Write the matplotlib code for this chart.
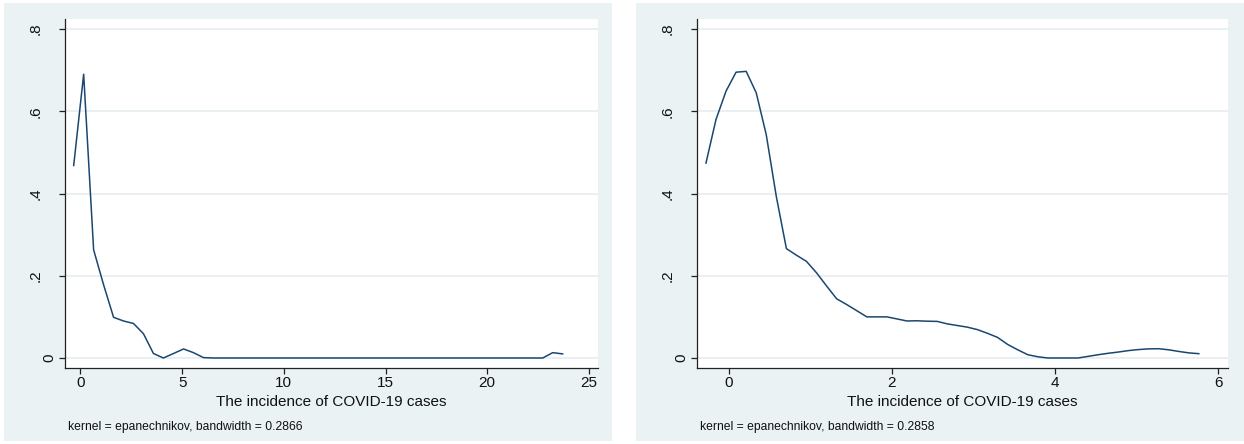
import matplotlib
matplotlib.use("Agg")
import matplotlib.pyplot as plt
from matplotlib.patches import Rectangle
from matplotlib.transforms import ScaledTranslation

plt.rcParams['font.family'] = ['Liberation Sans', 'DejaVu Sans']

# ---------------- data ----------------
# Left panel: kernel density (Stata 50-point grid)
left_x = [-0.33, 0.16, 0.65, 1.14, 1.63, 2.12, 2.61, 3.10, 3.59, 4.08,
          4.58, 5.07, 5.56, 6.05, 6.54, 7.03, 7.52, 8.01, 8.50, 8.99,
          9.48, 9.97, 10.46, 10.95, 11.44, 11.93, 12.42, 12.91, 13.40, 13.89,
          14.39, 14.88, 15.37, 15.86, 16.35, 16.84, 17.33, 17.82, 18.31, 18.80,
          19.29, 19.78, 20.27, 20.76, 21.25, 21.74, 22.24, 22.73, 23.22, 23.71]
left_y = [0.468, 0.690, 0.263, 0.178, 0.099, 0.090, 0.084, 0.059, 0.011, 0.000,
          0.011, 0.022, 0.013, 0.001, 0.000, 0.000, 0.000, 0.000, 0.000, 0.000,
          0.000, 0.000, 0.000, 0.000, 0.000, 0.000, 0.000, 0.000, 0.000, 0.000,
          0.000, 0.000, 0.000, 0.000, 0.000, 0.000, 0.000, 0.000, 0.000, 0.000,
          0.000, 0.000, 0.000, 0.000, 0.000, 0.000, 0.000, 0.000, 0.013, 0.010]

# Right panel
right_x = [-0.280, -0.157, -0.034, 0.089, 0.213, 0.336, 0.459, 0.582, 0.706, 0.829,
           0.952, 1.076, 1.199, 1.322, 1.445, 1.569, 1.692, 1.815, 1.939, 2.062,
           2.185, 2.308, 2.432, 2.555, 2.678, 2.802, 2.925, 3.048, 3.172, 3.295,
           3.418, 3.541, 3.665, 3.788, 3.911, 4.035, 4.158, 4.281, 4.405, 4.528,
           4.651, 4.774, 4.898, 5.021, 5.144, 5.268, 5.391, 5.514, 5.637, 5.761]
right_y = [0.474, 0.580, 0.649, 0.695, 0.697, 0.645, 0.543, 0.393, 0.266, 0.250,
           0.235, 0.207, 0.175, 0.144, 0.130, 0.115, 0.100, 0.100, 0.100, 0.095,
           0.090, 0.0905, 0.0895, 0.089, 0.083, 0.079, 0.075, 0.069, 0.060, 0.050,
           0.033, 0.020, 0.008, 0.003, 0.000, 0.000, 0.000, 0.000, 0.004, 0.008,
           0.0115, 0.0145, 0.018, 0.0205, 0.0222, 0.0226, 0.020, 0.016, 0.0125, 0.0105]

left_xticks = [0, 5, 10, 15, 20, 25]
right_xticks = [0, 2, 4, 6]
y_ticks = [0, 0.2, 0.4, 0.6, 0.8]
y_ticklabels = ['0', '.2', '.4', '.6', '.8']
x_title = "The incidence of COVID-19 cases"
left_note = "kernel = epanechnikov, bandwidth = 0.2866"
right_note = "kernel = epanechnikov, bandwidth = 0.2858"

# ---------------- layout ----------------
W, H = 1244, 444
BG = '#eaf2f3'
LINE = '#1a476f'
AX = '#222222'

fig = plt.figure(figsize=(W / 100, H / 100), dpi=100)
fig.patch.set_facecolor('white')

def px_rect(x0, y0, x1, y1):
    return [x0 / W, 1 - y1 / H, (x1 - x0) / W, (y1 - y0) / H]

for (x0, x1) in [(4, 612), (636, 1244)]:
    r = px_rect(x0, 3, x1, 441)
    rect = Rectangle((r[0], r[1]), r[2], r[3], transform=fig.transFigure,
                     facecolor=BG, edgecolor='none', zorder=-10)
    fig.add_artist(rect)

panels = [
    dict(x=left_x, y=left_y, xticks=left_xticks, note=left_note,
         box=(64.5, 19.3, 598, 368), xlim=(-0.782, 25.447)),
    dict(x=right_x, y=right_y, xticks=right_xticks, note=right_note,
         box=(696.5, 19.3, 1228, 368), xlim=(-0.396, 6.119)),
]

for p in panels:
    x0, y0, x1, y1 = p['box']
    ax = fig.add_axes(px_rect(x0, y0, x1, y1))
    ax.set_zorder(1)
    ax.set_facecolor('white')
    ax.set_xlim(*p['xlim'])
    ax.set_ylim(-0.0243, 0.8236)
    for s in ['top', 'right']:
        ax.spines[s].set_visible(False)
    for s in ['left', 'bottom']:
        ax.spines[s].set_color(AX)
        ax.spines[s].set_linewidth(0.9)
    ax.set_yticks(y_ticks)
    ax.set_yticklabels([])
    ax.set_xticks(p['xticks'])
    ax.set_xticklabels([str(t) for t in p['xticks']], fontsize=11, color='#111111')
    ax.tick_params(axis='both', direction='out', length=4.3, width=0.9, color=AX)
    ax.tick_params(axis='x', pad=1.5)
    ax.grid(axis='y', color='#e6eef0', linewidth=1.2)
    ax.set_axisbelow(True)
    ax.plot(p['x'], p['y'], color=LINE, linewidth=1.1, solid_joinstyle='round')

    # rotated y tick labels (Stata-style placement)
    for v, lab in zip(y_ticks, y_ticklabels):
        off = -11.5 if lab == '0' else -24.5
        tr = ax.get_yaxis_transform() + ScaledTranslation(off / 100, 0, fig.dpi_scale_trans)
        ax.text(0, v, lab, transform=tr, rotation=90, rotation_mode='anchor',
                ha='center', va='baseline', fontsize=11, color='#111111',
                clip_on=False)

    cx = (x0 + x1) / 2
    fig.text(cx / W, 1 - 406 / H, x_title, ha='center', va='baseline',
             fontsize=11, color='#111111')
    fig.text((x0 + 3) / W, 1 - 430 / H, p['note'], ha='left', va='baseline',
             fontsize=8.7, color='#111111')

fig.savefig('out.png', dpi=100, facecolor='white')
